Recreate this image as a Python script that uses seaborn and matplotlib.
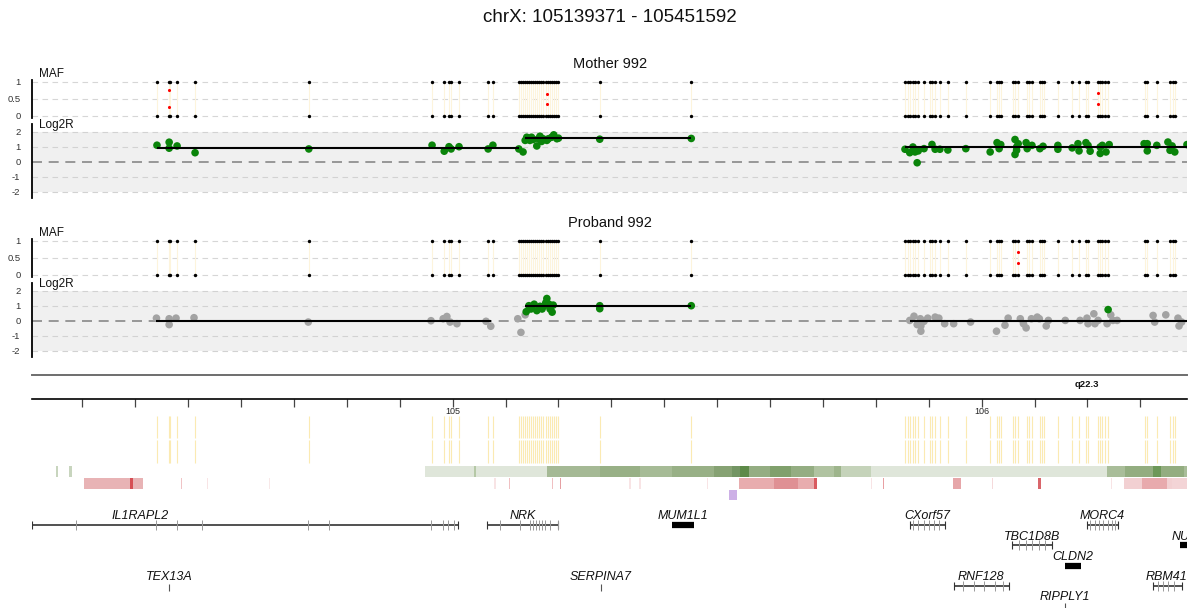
import matplotlib
matplotlib.use("Agg")
import matplotlib.pyplot as plt
import numpy as np
import pandas as pd
import seaborn as sns

sns.set_theme(style="white")
plt.rcParams["font.family"] = ["Liberation Sans", "DejaVu Sans"]
plt.rcParams["text.color"] = "#111111"

# ------------------------------------------------------------------ data
title = "chrX: 105139371 - 105451592"
sample_titles = ["Mother 992", "Proband 992"]

# SNP positions (Mb) used for MAF panels and the SNP track
maf_pos = [104.441, 104.464, 104.466, 104.479, 104.513, 104.728,
           104.961, 104.984, 104.993, 104.997, 105.012, 105.067, 105.076,
           105.125, 105.129, 105.133, 105.137, 105.141, 105.144, 105.148, 105.152,
           105.156, 105.159, 105.163, 105.167, 105.171, 105.176, 105.180, 105.184,
           105.188, 105.191, 105.195, 105.199, 105.278, 105.451,
           105.855, 105.861, 105.864, 105.870, 105.874, 105.880, 105.891, 105.902,
           105.906, 105.912, 105.921, 105.936, 105.970, 106.016, 106.029, 106.033,
           106.036, 106.059, 106.063, 106.069, 106.086, 106.089, 106.095, 106.110,
           106.114, 106.118, 106.144, 106.171, 106.184, 106.197, 106.201, 106.220,
           106.224, 106.228, 106.233, 106.239, 106.309, 106.313, 106.331, 106.356,
           106.362, 106.365]
mother_het_pos = [104.464, 105.178, 106.220]
mother_het_baf = [0.75, 0.65, 0.67]
proband_het_pos = [106.069]
proband_het_baf = [0.67]

mother_l2r_pos = [104.441, 104.464, 104.464, 104.479, 104.513, 104.728,
                  104.961, 104.984, 104.993, 104.997, 105.012, 105.067, 105.076, 105.125, 105.133,
                  105.137, 105.140, 105.143, 105.146, 105.149, 105.152, 105.159, 105.162, 105.165,
                  105.168, 105.171, 105.178, 105.181, 105.187, 105.191, 105.197, 105.200,
                  105.278, 105.451,
                  105.855, 105.864, 105.870, 105.874, 105.878, 105.880, 105.891, 105.906, 105.912,
                  105.921, 105.936, 105.970, 106.016, 106.029, 106.033, 106.036, 106.063, 106.066,
                  106.063, 106.069, 106.066, 106.084, 106.086, 106.095, 106.110, 106.116, 106.144,
                  106.144, 106.171, 106.182, 106.184, 106.197, 106.201, 106.205, 106.224, 106.224,
                  106.228, 106.235, 106.241, 106.307, 106.313, 106.313, 106.331, 106.352, 106.356,
                  106.360, 106.365, 106.388]
mother_l2r_val = [1.1, 1.3, 0.9, 1.05, 0.6, 0.85,
                  1.1, 0.7, 1.0, 0.85, 1.0, 0.85, 1.1, 0.85, 0.65,
                  1.42, 1.63, 1.53, 1.42, 1.63, 1.48, 1.05, 1.53, 1.7,
                  1.35, 1.53, 1.42, 1.53, 1.63, 1.79, 1.53, 1.57,
                  1.5, 1.55,
                  0.83, 0.6, 0.98, 0.65, -0.07, 0.72, 0.87, 1.15, 0.83,
                  0.83, 0.78, 0.87, 0.65, 1.27, 0.87, 1.14, 1.48, 0.98,
                  0.48, 1.2, 0.76, 1.27, 0.87, 1.09, 0.87, 1.03, 1.09,
                  0.83, 0.92, 1.2, 0.72, 1.27, 1.09, 0.7, 0.98, 0.55,
                  1.09, 0.65, 1.14, 1.2, 0.72, 1.2, 1.09, 1.31, 0.76,
                  1.05, 0.65, 1.14]
mother_seg_start = [104.441, 105.137, 105.855]
mother_seg_end = [105.125, 105.451, 106.388]
mother_seg_val = [0.93, 1.55, 0.95]

proband_l2r_pos = [104.440, 104.464, 104.464, 104.477, 104.511, 104.727, 104.959, 104.982,
                   104.989, 104.995, 105.008, 105.063, 105.072, 105.123, 105.129, 105.137,
                   105.139, 105.144, 105.148, 105.154, 105.159, 105.165, 105.169, 105.173,
                   105.176, 105.178, 105.182, 105.184, 105.188, 105.190, 105.278, 105.278, 105.451,
                   105.864, 105.872, 105.878, 105.884, 105.885, 105.891, 105.885, 105.898,
                   105.912, 105.919, 105.930, 105.947, 105.979, 106.028, 106.044, 106.050,
                   106.073, 106.079, 106.084, 106.094, 106.105, 106.109, 106.122, 106.126,
                   106.158, 106.186, 106.199, 106.201, 106.212, 106.214, 106.220, 106.237,
                   106.244, 106.248, 106.256, 106.324, 106.327, 106.348, 106.371, 106.373,
                   106.378, 106.239]
proband_l2r_val = [0.17, 0.13, -0.26, 0.17, 0.2, -0.09, 0.0, 0.13,
                   0.28, -0.09, -0.2, -0.04, -0.37, 0.13, -0.78, 0.39,
                   0.6, 1.0, 0.78, 1.1, 0.67, 0.96, 0.78, 1.0,
                   1.2, 1.48, 1.1, 0.78, 0.57, 1.04, 1.0, 0.8, 1.0,
                   0.02, 0.3, -0.26, 0.13, -0.35, -0.04, -0.7, 0.17,
                   0.24, 0.17, -0.2, -0.2, -0.09, -0.7, -0.3, 0.17,
                   0.13, -0.2, -0.48, 0.13, 0.24, 0.13, -0.35, 0.02,
                   0.02, 0.02, 0.17, -0.2, 0.46, -0.2, 0.02, -0.2,
                   0.39, 0.02, 0.02, 0.35, -0.09, 0.39, 0.17, -0.35,
                   -0.09, 0.74]
proband_l2r_call = (["normal"] * 16 + ["gain"] * 17 + ["normal"] * 41 + ["gain"])
proband_seg_start = [104.440, 105.137, 105.864]
proband_seg_end = [105.072, 105.451, 106.388]
proband_seg_val = [-0.02, 1.0, 0.0]

# cytoband / axis
axis_ticks = [104.3, 104.4, 104.5, 104.6, 104.7, 104.8, 104.9, 105.0, 105.1, 105.2,
              105.3, 105.4, 105.5, 105.6, 105.7, 105.8, 105.9, 106.0, 106.1, 106.2, 106.3]
axis_tick_labels = ["", "", "", "", "", "", "", "105", "", "", "", "", "", "", "", "", "",
                    "106", "", "", ""]
band_name = "q22.3"
band_label_pos = 106.199

# conservation-like green track
green_start = [104.251, 104.275, 104.948, 105.040, 105.044, 105.178, 105.278, 105.354, 105.415,
               105.494, 105.528, 105.543, 105.560, 105.600, 105.640, 105.683, 105.721, 105.734,
               105.791, 106.237, 106.271, 106.324, 106.339, 106.382]
green_end = [104.254, 104.281, 105.040, 105.044, 105.178, 105.278, 105.354, 105.415, 105.494,
             105.528, 105.543, 105.560, 105.600, 105.640, 105.683, 105.721, 105.734, 105.791,
             106.237, 106.271, 106.324, 106.339, 106.382, 106.388]
green_color = ["#c8d5be", "#c8d5be", "#dfe6da", "#b5c8a6", "#dfe6da", "#a5b995", "#98b086",
               "#a6bb96", "#98b086", "#86a273", "#739563", "#5d8a48", "#94ad82", "#80a06c",
               "#94ad82", "#b0c3a1", "#9eb58c", "#c5d3ba", "#dfe6da", "#a9bd99", "#93ad80",
               "#6d9858", "#93ad80", "#a9bd99"]

# red track
red_start = [104.303, 104.390, 104.396, 104.486, 104.535, 104.652, 105.079, 105.106, 105.187,
             105.202, 105.334, 105.353, 105.480, 105.541, 105.608, 105.653, 105.683, 105.790,
             105.813, 105.946, 106.019, 106.107, 106.244, 106.269, 106.303, 106.350, 106.359]
red_end = [104.390, 104.396, 104.415, 104.489, 104.538, 104.655, 105.082, 105.109, 105.190,
           105.205, 105.337, 105.356, 105.483, 105.608, 105.653, 105.683, 105.689, 105.793,
           105.816, 105.961, 106.022, 106.112, 106.247, 106.303, 106.350, 106.359, 106.388]
red_color = ["#e8b3b5", "#d64f55", "#e8b3b5", "#f0c4c6", "#f8e4e5", "#f8e8e8", "#f8e4e5",
             "#f0c0c2", "#f0c0c2", "#e5a0a3", "#f8e4e5", "#f8e4e5", "#f8e4e5", "#e8acae",
             "#df9094", "#e8acae", "#d95a60", "#f8e4e5", "#e8a0a3", "#e6a6a9", "#f5dadb",
             "#d9666b", "#f8e4e5", "#f2d0d2", "#e8aaad", "#f2d0d2", "#f3d4d6"]

purple_start = [105.523]
purple_end = [105.538]

# genes
gene_names = ["IL1RAPL2", "NRK", "MUM1L1", "CXorf57", "MORC4", "TBC1D8B", "NU", "CLDN2",
              "RNF128", "RBM41", "TEX13A", "SERPINA7", "RIPPLY1"]
gene_start = [104.205, 105.065, 105.415, 105.864, 106.199, 106.057, 106.375, 106.158,
              105.948, 106.324, 104.463, 105.279, 106.157]
gene_end = [105.010, 105.199, 105.456, 105.930, 106.258, 106.133, 106.420, 106.188,
            106.052, 106.378, 104.465, 105.281, 106.159]
gene_label_x = [104.409, 105.133, 105.435, 105.898, 106.228, 106.095, 106.376, 106.173,
                105.999, 106.349, 104.464, 105.280, 106.158]
gene_row = [0, 0, 0, 0, 0, 1, 1, 2, 3, 3, 3, 3, 4]
gene_thick = [False, False, True, False, False, False, True, True, False, False, False,
              False, False]
gene_exons = {
    "IL1RAPL2": [104.288, 104.440, 104.479, 104.526, 104.727, 104.767, 104.959, 104.982,
                 104.992, 105.003],
    "NRK": [105.089, 105.127, 105.146, 105.152, 105.157, 105.163, 105.169, 105.174, 105.184,
            105.199],
    "CXorf57": [105.870, 105.880, 105.891, 105.900, 105.910, 105.920],
    "MORC4": [106.205, 106.214, 106.222, 106.230, 106.238, 106.246, 106.252],
    "TBC1D8B": [106.070, 106.083, 106.095, 106.108, 106.120],
    "RNF128": [105.965, 105.985, 106.005, 106.025, 106.040],
    "RBM41": [106.333, 106.343, 106.353, 106.363],
}

# ------------------------------------------------------------------ layout helpers
W, H = 1189, 608
fig = plt.figure(figsize=(W / 100, H / 100), dpi=100)
XL, XR = 31.5, 1187.0
X0, X1 = 104.2038, 106.3881


def add_ax(left, top, right, bottom):
    return fig.add_axes([left / W, 1 - bottom / H, (right - left) / W, (bottom - top) / H])


def panel_ax(y_hi, y_lo, hi, lo, ylim):
    ppu = (y_lo - y_hi) / (hi - lo)
    top = y_hi - (ylim[1] - hi) * ppu
    bottom = y_lo + (lo - ylim[0]) * ppu
    ax = add_ax(XL, top, XR, bottom)
    ax.set_xlim(X0, X1)
    ax.set_ylim(*ylim)
    ax.set_facecolor("none")
    for s in ["top", "right", "bottom"]:
        ax.spines[s].set_visible(False)
    ax.spines["left"].set_color("black")
    ax.spines["left"].set_linewidth(1.3)
    ax.set_xticks([])
    ax.tick_params(axis="y", length=0, pad=8, labelsize=6.8, labelcolor="#333333")
    ax.grid(False)
    return ax


def fig_text(x, y, s, **kw):
    fig.text(x / W, 1 - y / H, s, **kw)


fig_text(610, 18, title, ha="center", va="center", fontsize=13.5)

samples = [
    dict(offset=0, het_pos=mother_het_pos, het_baf=mother_het_baf,
         pos=mother_l2r_pos, val=mother_l2r_val, call=["gain"] * len(mother_l2r_pos),
         s0=mother_seg_start, s1=mother_seg_end, sv=mother_seg_val),
    dict(offset=159, het_pos=proband_het_pos, het_baf=proband_het_baf,
         pos=proband_l2r_pos, val=proband_l2r_val, call=proband_l2r_call,
         s0=proband_seg_start, s1=proband_seg_end, sv=proband_seg_val),
]

for name, smp in zip(sample_titles, samples):
    o = smp["offset"]
    fig_text(610, 64 + o, name, ha="center", va="center", fontsize=10.5)
    # ---- MAF panel
    ax = panel_ax(81.7 + o, 115.7 + o, 1, 0, (-0.06, 1.06))
    for yv in [0, 0.5, 1]:
        ax.axhline(yv, color="#d6d6d6", lw=0.8, ls=(0, (5, 4)), zorder=0)
    ax.vlines(maf_pos, 0, 1, color="#fdf4dc", lw=0.8, zorder=1)
    hom = pd.DataFrame({"pos": maf_pos * 2, "maf": [0.0] * len(maf_pos) + [1.0] * len(maf_pos)})
    sns.scatterplot(data=hom, x="pos", y="maf", ax=ax, color="black", s=6, linewidth=0,
                    zorder=3, legend=False)
    het = pd.DataFrame({"pos": smp["het_pos"] * 2,
                        "maf": list(smp["het_baf"]) + [1 - b for b in smp["het_baf"]]})
    sns.scatterplot(data=het, x="pos", y="maf", ax=ax, color="red", s=5, linewidth=0,
                    zorder=3, legend=False)
    ax.set_yticks([0, 0.5, 1])
    ax.set_yticklabels(["0", "0.5", "1"])
    ax.set_xlabel("")
    ax.set_ylabel("")
    fig_text(39, 74 + o, "MAF", ha="left", va="center", fontsize=8.5)
    # ---- Log2R panel
    ax = panel_ax(131.7 + o, 191.7 + o, 2, -2, (-2.42, 2.5))
    ax.axhspan(-2, 2, color="#f0f0f0", zorder=0, lw=0)
    for yv in [2, 1, -1, -2]:
        ax.axhline(yv, color="#d2d2d2", lw=0.8, ls=(0, (5, 4)), zorder=1)
    ax.axhline(0, color="#888888", lw=1.2, ls=(0, (6, 4)), zorder=1)
    df = pd.DataFrame({"pos": smp["pos"], "log2r": smp["val"], "call": smp["call"]})
    sns.scatterplot(data=df, x="pos", y="log2r", hue="call", ax=ax,
                    palette={"gain": "#0a840a", "normal": "#a3a3a3"}, s=30, linewidth=0,
                    zorder=3, legend=False)
    ax.hlines(smp["sv"], smp["s0"], smp["s1"], color="black", lw=1.5, zorder=4)
    ax.set_yticks([-2, -1, 0, 1, 2])
    ax.set_yticklabels(["-2", "-1", "0", "1", "2"])
    ax.set_xlabel("")
    ax.set_ylabel("")
    fig_text(39, 125 + o, "Log2R", ha="left", va="center", fontsize=8.5)

# ------------------------------------------------------------------ ideogram / axis
ax = add_ax(XL, 375, XR, 398.7)
ax.set_xlim(X0, X1)
ax.set_ylim(0, 1)
ax.set_facecolor("none")
ax.set_yticks([])
for s in ["left", "right"]:
    ax.spines[s].set_visible(False)
ax.spines["top"].set_color("#6e6e6e")
ax.spines["top"].set_linewidth(1.4)
ax.spines["bottom"].set_color("black")
ax.spines["bottom"].set_linewidth(1.2)
ax.set_xticks(axis_ticks)
ax.set_xticklabels(axis_tick_labels)
ax.tick_params(axis="x", direction="out", length=6, width=0.9, color="#444444",
               labelsize=6.5, pad=0, bottom=True)
ax.text(band_label_pos, 0.62, band_name, ha="center", va="center", fontsize=6.8,
        fontweight="bold")

# ------------------------------------------------------------------ tracks + genes
ax = add_ax(XL, 405, XR, 608)
ax.set_xlim(X0, X1)
ax.set_ylim(608, 405)
ax.axis("off")
ax.vlines(maf_pos, 416, 438, color="#fbeab2", lw=0.8)
ax.vlines(maf_pos, 440, 463, color="#fbeab2", lw=0.8)
ax.barh([471] * len(green_start), np.array(green_end) - np.array(green_start),
        left=green_start, height=11, color=green_color, linewidth=0)
ax.barh([483.5] * len(red_start), np.array(red_end) - np.array(red_start),
        left=red_start, height=11, color=red_color, linewidth=0)
ax.barh([495] * len(purple_start), np.array(purple_end) - np.array(purple_start),
        left=purple_start, height=10, color="#cdb0e6", linewidth=0)

row_line_y = [525, 545, 566, 586, 605]
row_label_y = [516, 537, 557, 577, 597]
for g, a, b, lx, r, thick in zip(gene_names, gene_start, gene_end, gene_label_x, gene_row,
                                  gene_thick):
    yl = row_line_y[r]
    if thick:
        ax.hlines(yl, a, b, color="black", lw=4.5)
    elif b - a < 0.01:
        ax.vlines((a + b) / 2, yl - 2, yl + 5, color="#555555", lw=0.8)
    else:
        ax.hlines(yl, a, b, color="#222222", lw=1.1)
        ax.vlines([a, b], yl - 4, yl + 4, color="#333333", lw=0.8)
        ex = gene_exons.get(g, [])
        ax.vlines(ex, yl - 5, yl + 5, color="#9a9a9a", lw=0.7)
    ax.text(lx, row_label_y[r], g, ha="center", va="center", fontsize=9, style="italic",
            color="#111111", clip_on=True)

fig.savefig("out.png", dpi=100)
